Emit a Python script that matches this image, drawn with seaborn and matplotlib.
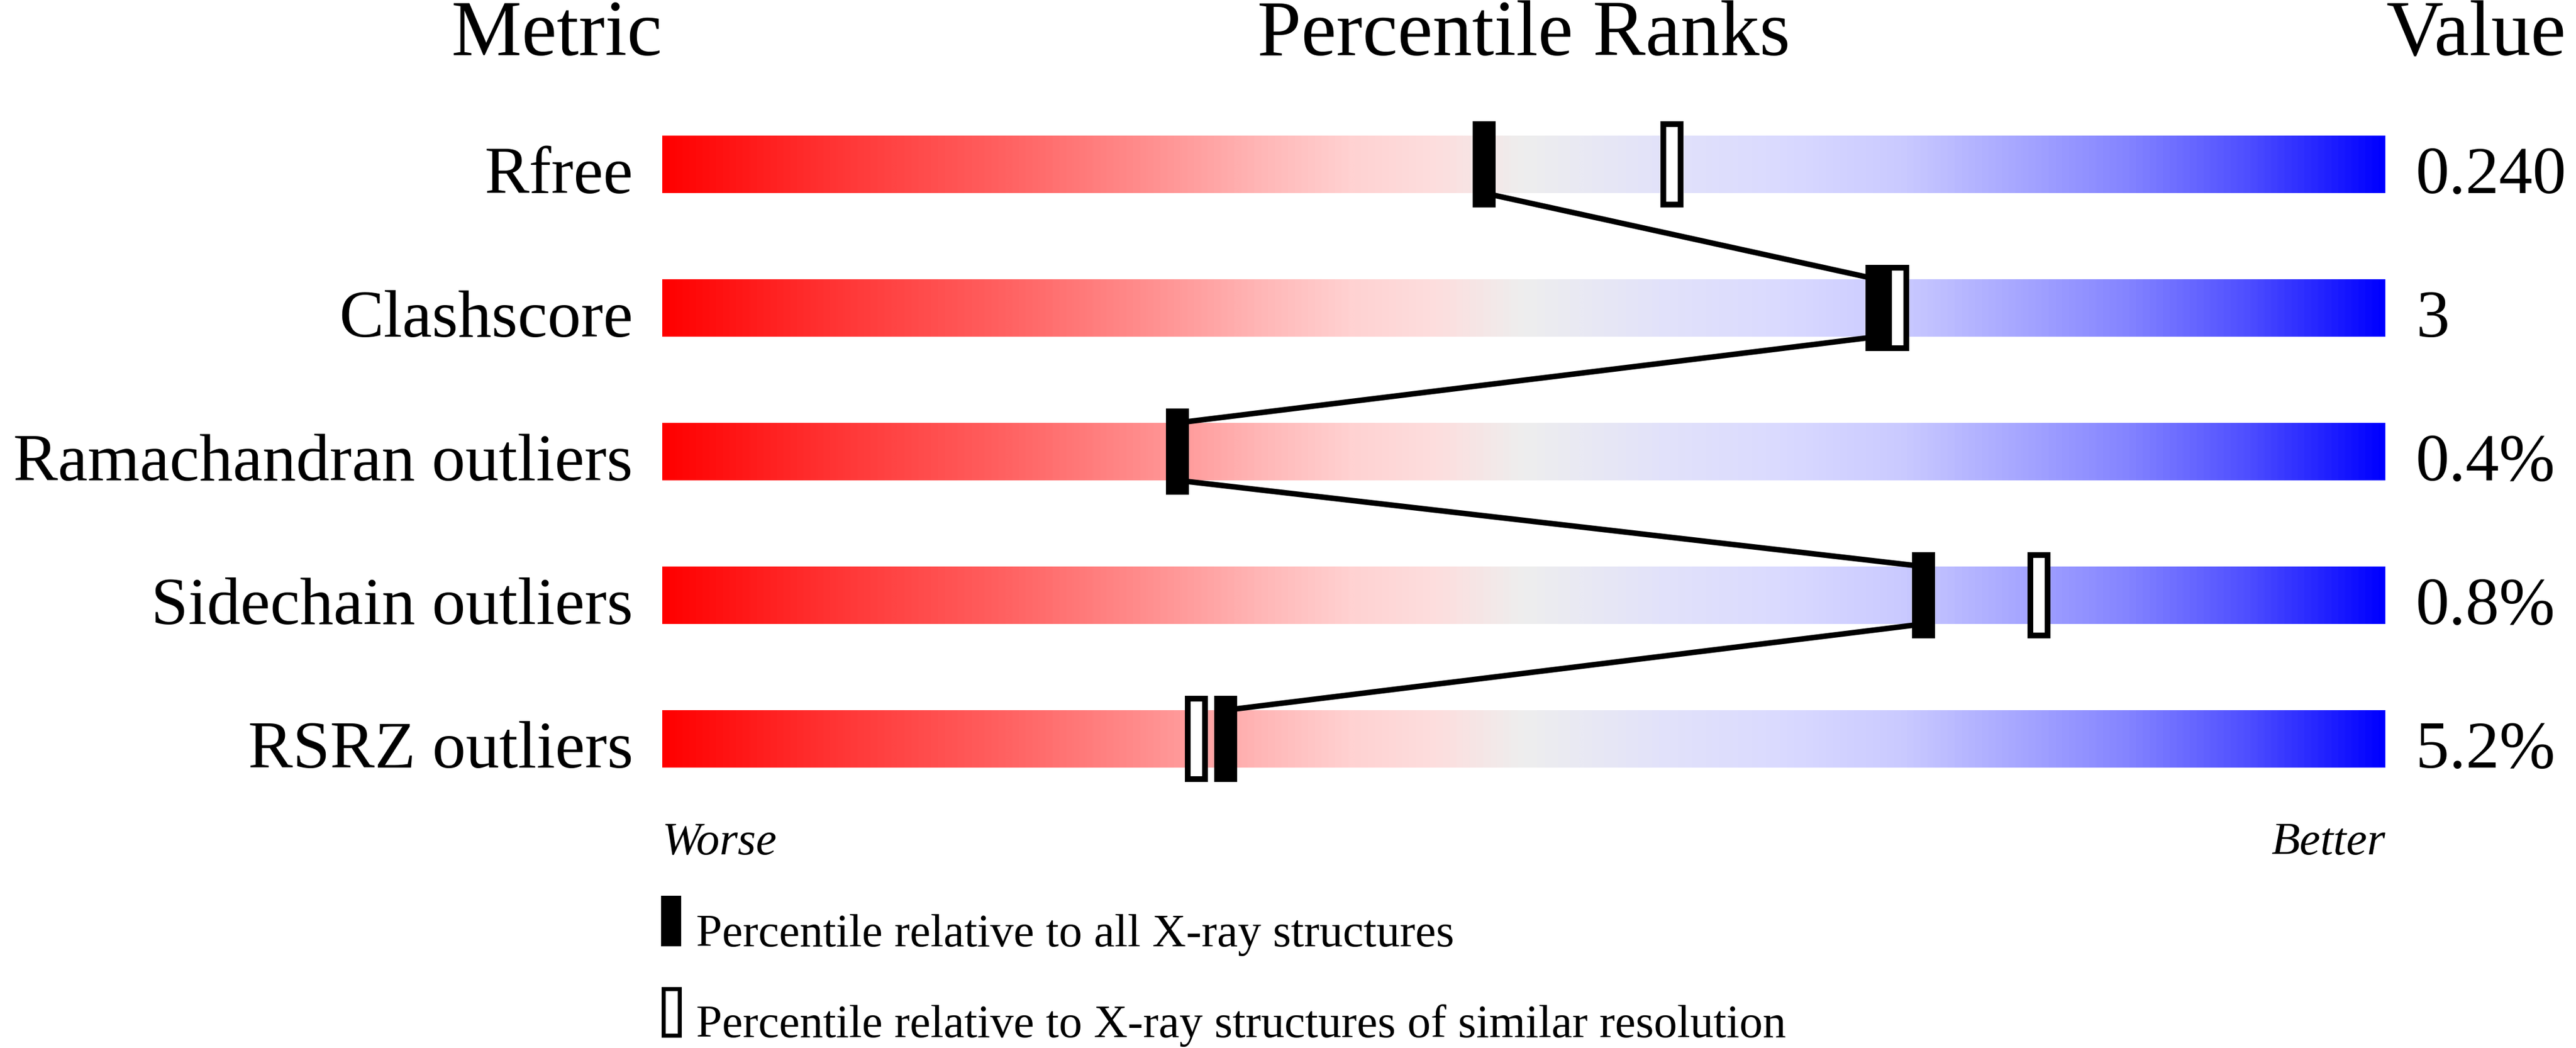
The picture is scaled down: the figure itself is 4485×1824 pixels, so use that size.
import numpy as np
import pandas as pd
import matplotlib
matplotlib.use("Agg")
import matplotlib.pyplot as plt
import seaborn as sns
from matplotlib.colors import LinearSegmentedColormap
from matplotlib.patches import Rectangle

# ---------------- data ----------------
metrics = ["Rfree", "Clashscore", "Ramachandran outliers", "Sidechain outliers", "RSRZ outliers"]
values = ["0.240", "3", "0.4%", "0.8%", "5.2%"]
pct_all = [47.7, 70.5, 29.9, 73.2, 32.7]          # percentile vs all X-ray structures
pct_similar = [58.6, 71.7, np.nan, 79.9, 31.0]    # percentile vs similar resolution
headers = ["Metric", "Percentile Ranks", "Value"]
scale_ends = ["Worse", "Better"]
legend_labels = ["Percentile relative to all X-ray structures",
                 "Percentile relative to X-ray structures of similar resolution"]

grad_pos = [0.0, 0.10, 0.20, 0.28, 0.35, 0.40, 0.45, 0.50,
            0.58, 0.65, 0.72, 0.78, 0.85, 0.92, 1.0]
grad_col = ["#FF0000", "#FF3535", "#FF6262", "#FF8E8E", "#FFB8B8", "#FFD2D2", "#FDDEDE", "#EEEEEE",
            "#E2E2FA", "#DADAFF", "#CACAFF", "#ABABFF", "#8585FF", "#5050FF", "#0000FF"]

# ---------------- style ----------------
sns.set_theme(style="white")
plt.rcParams["font.family"] = ["Liberation Serif", "DejaVu Serif"]

W, H, DPI = 4485, 1824, 300
fig = plt.figure(figsize=(W / DPI, H / DPI), dpi=DPI)
fig.patch.set_facecolor("white")

# overlay in pixel units for headers / legend
over = fig.add_axes([0, 0, 1, 1])
over.set_xlim(0, W)
over.set_ylim(H, 0)
over.axis("off")

# main axes: x = percentile 0..100, y = row index
BL, BR = 1153, 4153
ROW0, ROWSTEP = 286, 250
n = len(metrics)
top_px = ROW0 - ROWSTEP / 2
ax = fig.add_axes([BL / W, 1 - (top_px + n * ROWSTEP) / H, (BR - BL) / W, n * ROWSTEP / H])
px_per_unit = (BR - BL) / 100.0

cmap = LinearSegmentedColormap.from_list("slider", list(zip(grad_pos, grad_col)))
grad = np.linspace(0, 1, 1024).reshape(1, -1)
rows = np.arange(n)
BAR_HALF = 0.2
for i in rows:
    ax.imshow(grad, cmap=cmap, extent=[0, 100, i + BAR_HALF, i - BAR_HALF],
              aspect="auto", interpolation="bilinear", zorder=1)

# connecting line between filled markers (bar bottom -> next bar top)
seg_x, seg_y, seg_id = [], [], []
for i in range(n - 1):
    seg_x += [pct_all[i], pct_all[i + 1]]
    seg_y += [rows[i] + BAR_HALF, rows[i + 1] - BAR_HALF]
    seg_id += [i, i]
line_df = pd.DataFrame({"x": seg_x, "y": seg_y, "seg": seg_id})
sns.lineplot(data=line_df, x="x", y="y", units="seg", estimator=None, sort=False,
             color="black", linewidth=2.3, ax=ax, legend=False, zorder=2)

# markers
ax.bar(pct_all, 0.6, width=40 / px_per_unit, bottom=rows - 0.3,
       color="black", linewidth=0, zorder=3)
sim = np.array(pct_similar, dtype=float)
mask = ~np.isnan(sim)
ax.bar(sim[mask], 0.56, width=30 / px_per_unit, bottom=rows[mask] - 0.28,
       facecolor="white", edgecolor="black", linewidth=2.4, zorder=4)

ax.set_xlim(0, 100)
ax.set_ylim(n - 0.5, -0.5)
ax.axis("off")
ax.patch.set_alpha(0)

# row labels and values
for i, (m, v) in enumerate(zip(metrics, values)):
    ax.text(-51 / px_per_unit, i + BAR_HALF, m, ha="right", va="baseline",
            fontsize=28, color="black")
    ax.text(100 + 53 / px_per_unit, i + BAR_HALF, v, ha="left", va="baseline",
            fontsize=28, color="black")

# headers
over.text(BL, 96, headers[0], ha="right", va="baseline", fontsize=33, color="black")
over.text((BL + BR) / 2, 96, headers[1], ha="center", va="baseline", fontsize=33, color="black")
over.text(BR + 2, 96, headers[2], ha="left", va="baseline", fontsize=33, color="black")

# worse / better
over.text(BL, 1487, scale_ends[0], ha="left", va="baseline", fontsize=19.5,
          style="italic", color="black")
over.text(BR, 1487, scale_ends[1], ha="right", va="baseline", fontsize=19.5,
          style="italic", color="black")

# legend
over.add_patch(Rectangle((1151, 1559), 35, 88, facecolor="black", edgecolor="none"))
over.text(1212, 1647, legend_labels[0], ha="left", va="baseline", fontsize=19.5, color="black")
over.add_patch(Rectangle((1151 + 3.5, 1717 + 3.5), 28, 81, facecolor="white",
                         edgecolor="black", linewidth=1.7))
over.text(1212, 1805, legend_labels[1], ha="left", va="baseline", fontsize=19.5, color="black")

fig.savefig("out.png", dpi=DPI, facecolor="white")
